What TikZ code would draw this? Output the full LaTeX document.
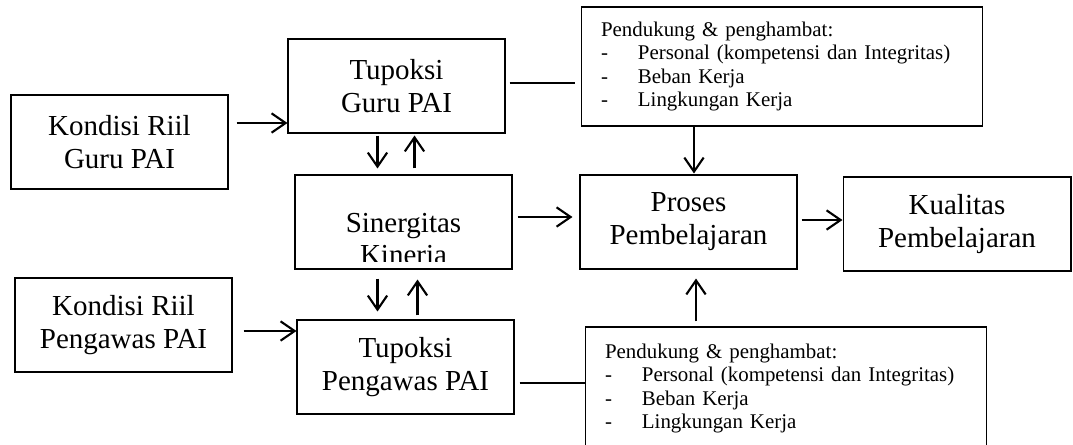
\documentclass[tikz,border=0pt]{standalone}
\usepackage{fontspec}
\setmainfont{Liberation Serif}
\usetikzlibrary{arrows.meta,calc}
\tikzset{
  box/.style={draw,line width=0.6pt,minimum width=4.34cm,minimum height=1.88cm,
    inner sep=0pt,align=center,font=\fontsize{16.5}{18.7}\selectfont},
  note/.style={draw,line width=0.6pt,minimum width=8.04cm,text width=7.24cm,
    inner sep=0pt,align=left,font=\fontsize{11.9}{13.2}\selectfont},
  arr/.style={-{Straight Barb[length=8pt,width=11pt]},line width=1.2pt},
  lin/.style={line width=1.2pt}
}
\newcommand{\butir}[1]{\makebox[21pt][l]{-}#1}
\begin{document}
\begin{tikzpicture}[x=0.02cm,y=-0.02cm]
    \useasboundingbox (0,0) rectangle (1073,444);
    \node [box] (A1_0) at (119.5,142) {Kondisi Riil\\Guru PAI};
    \node [box] (A0_1) at (396.5,86) {Tupoksi\\Guru PAI};
    \node [note,minimum height=2.38cm] (A0_2) at (782,66.5) {Pendukung \& penghambat:\\
      \butir{Personal (kompetensi dan Integritas)}\\\butir{Beban Kerja}\\\butir{Lingkungan Kerja}};
    \node [box] (A2_1) at (403.5,222) {};
    \begin{scope}
      \clip (A2_1.north west) rectangle ([yshift=0.16cm]A2_1.south east);
      \node (A2_1t) [align=center,inner sep=0pt,font=\fontsize{16.5}{18.7}\selectfont]
        at ([yshift=-0.34cm]A2_1.center) {Sinergitas\\Kineria};
    \end{scope}
    \node [box] (A2_2) at (688.5,222) {Proses\\Pembelajaran};
    \node [box,minimum width=4.56cm] (A2_3) at (957,224) {Kualitas\\Pembelajaran};
    \node [box] (A3_0) at (123.5,325) {Kondisi Riil\\Pengawas PAI};
    \node [box] (A4_1) at (405.5,367) {Tupoksi\\Pengawas PAI};
    \node [note,minimum height=2.46cm] (A4_2) at (786,388.5) {Pendukung \& penghambat:\\
      \butir{Personal (kompetensi dan Integritas)}\\\butir{Beban Kerja}\\\butir{Lingkungan Kerja}};
    \coordinate (B1) at ($(A1_0.east)+(8,-19)$);
    \path (B1) edge [arr] (B1 -| A0_1.west);
    \coordinate (B2) at ($(A0_1.east)+(4,-3)$);
    \path (B2) edge [lin] ($(B2 -| A0_2.west)+(-6,0)$);
    \coordinate (B3) at ($(A2_2.north)+(5.5,-1)$);
    \path (B3 |- A0_2.south) edge [arr] (B3);
    \coordinate (B4) at ($(A0_1.south)+(-19,2)$);
    \path (B4) edge [arr] ($(B4 |- A2_1.north)+(0,-6)$);
    \coordinate (B5) at ($(A0_1.south)+(18,2)$);
    \path ($(B5 |- A2_1.north)+(0,-6)$) edge [arr] (B5);
    \coordinate (B6) at ($(A2_1.east)+(5,-5)$);
    \path (B6) edge [arr] ($(B6 -| A2_2.west)+(-7,0)$);
    \coordinate (B7) at ($(A2_2.east)+(4,-2)$);
    \path (B7) edge [arr] (B7 -| A2_3.west);
    \coordinate (B8) at ($(A2_1.south)+(-26,9)$);
    \path (B8) edge [arr] ($(B8 |- A4_1.north)+(0,-8)$);
    \coordinate (B9) at ($(A2_1.south)+(14,10)$);
    \path ($(B9 |- A4_1.north)+(0,-4)$) edge [arr] (B9);
    \coordinate (B10) at ($(A3_0.east)+(11,6)$);
    \path (B10) edge [arr] (B10 -| A4_1.west);
    \coordinate (B11) at ($(A4_1.east)+(5,16)$);
    \path (B11) edge [lin] (B11 -| A4_2.west);
    \coordinate (B12) at ($(A2_2.south)+(7.5,9)$);
    \path ($(B12 |- A4_2.north)+(0,-5)$) edge [arr] (B12);
  \end{tikzpicture}
\end{document}
